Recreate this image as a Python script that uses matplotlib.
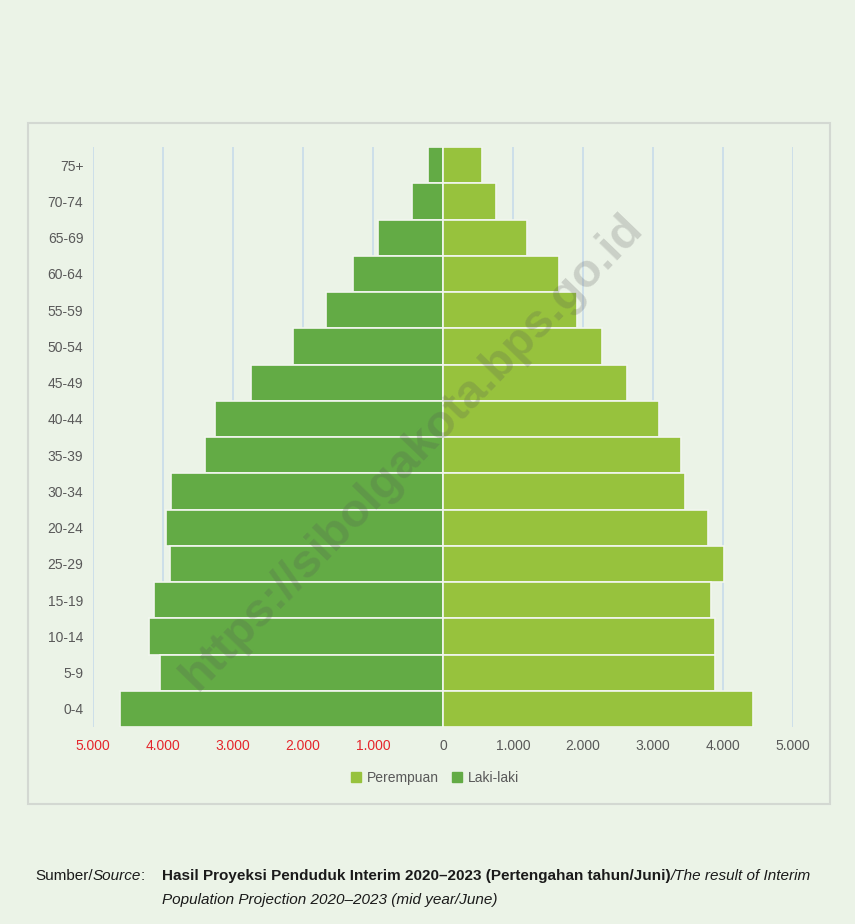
import matplotlib
matplotlib.use("Agg")
import matplotlib.pyplot as plt
from matplotlib.patches import Rectangle, Patch

# age groups, top to bottom as printed
age_groups = ["75+", "70-74", "65-69", "60-64", "55-59", "50-54", "45-49", "40-44",
              "35-39", "30-34", "20-24", "25-29", "15-19", "10-14", "5-9", "0-4"]
laki_laki = [214, 446, 926, 1291, 1667, 2141, 2749, 3256,
             3405, 3889, 3964, 3903, 4131, 4206, 4045, 4615]
perempuan = [558, 762, 1200, 1650, 1916, 2277, 2624, 3089,
             3393, 3454, 3782, 4014, 3835, 3892, 3882, 4427]
x_ticks = [-5000, -4000, -3000, -2000, -1000, 0, 1000, 2000, 3000, 4000, 5000]
x_tick_labels = ["5.000", "4.000", "3.000", "2.000", "1.000", "0",
                 "1.000", "2.000", "3.000", "4.000", "5.000"]

bg = "#EBF3E7"
c_laki = "#63AB45"
c_perempuan = "#97C23D"
sans = ["Liberation Sans", "DejaVu Sans"]

W, H = 855, 924
fig = plt.figure(figsize=(W / 100, H / 100), dpi=100, facecolor=bg)

# chart frame
fig.patches.append(Rectangle((28 / W, 1 - 804 / H), (830 - 28) / W, (804 - 123) / H,
                             transform=fig.transFigure, facecolor="none",
                             edgecolor="#D3D8D2", linewidth=1.5, zorder=-1))

ax = fig.add_axes([93 / W, 1 - 727 / H, 700 / W, 580 / H])
ax.set_facecolor("none")

y = list(range(len(age_groups)))
ax.barh(y, [-v for v in laki_laki], height=1.0, color=c_laki,
        edgecolor="#F2F6EF", linewidth=1.2, zorder=3)
ax.barh(y, perempuan, height=1.0, color=c_perempuan,
        edgecolor="#F2F6EF", linewidth=1.2, zorder=3)

ax.set_xlim(-5000, 5000)
ax.set_ylim(len(age_groups) - 0.5, -0.5)
ax.set_xticks(x_ticks)
ax.set_xticklabels(x_tick_labels, family=sans, fontsize=10, color="#595959")
for lbl, v in zip(ax.get_xticklabels(), x_ticks):
    if v < 0:
        lbl.set_color("#E5262C")
ax.set_yticks(y)
ax.set_yticklabels(age_groups, family=sans, fontsize=10, color="#595959")
ax.tick_params(length=0)
ax.tick_params(axis="x", pad=9)
ax.tick_params(axis="y", pad=7)
ax.grid(axis="x", color="#C8DBEA", linewidth=1.2, zorder=1)
for s in ax.spines.values():
    s.set_visible(False)

handles = [Patch(color=c_perempuan, label="Perempuan"), Patch(color=c_laki, label="Laki-laki")]
fig.legend(handles=handles, loc="center", bbox_to_anchor=(435 / W, 1 - 778 / H), ncol=2,
           frameon=False, prop={"family": sans, "size": 10}, labelcolor="#595959",
           handlelength=0.7, handleheight=0.7, handletextpad=0.4, columnspacing=1.0)

# watermark
fig.text(412 / W, 1 - 452 / H, "https://sibolgakota.bps.go.id", rotation=46,
         ha="center", va="center", fontsize=34, fontweight="bold",
         family=sans, color="#555555", alpha=0.22, zorder=10)

# source note
fs = 11
ink = "#1a1a1a"
y1 = 1 - 876 / H
y2 = 1 - 900 / H
renderer = fig.canvas.get_renderer()


def put(x_px, yy, s, **kw):
    t = fig.text(x_px / W, yy, s, family=sans, fontsize=fs, color=ink, va="center", **kw)
    return t.get_window_extent(renderer).x1


x = put(35, y1, "Sumber/")
x = put(x, y1, "Source", style="italic")
put(x, y1, ":")
x = put(162, y1, "Hasil Proyeksi Penduduk Interim 2020\u20132023 (Pertengahan tahun/Juni)",
        fontweight="bold")
put(x, y1, "/The result of Interim", style="italic")
put(162, y2, "Population Projection 2020\u20132023 (mid year/June)", style="italic")

fig.savefig("out.png", dpi=100, facecolor=bg)
